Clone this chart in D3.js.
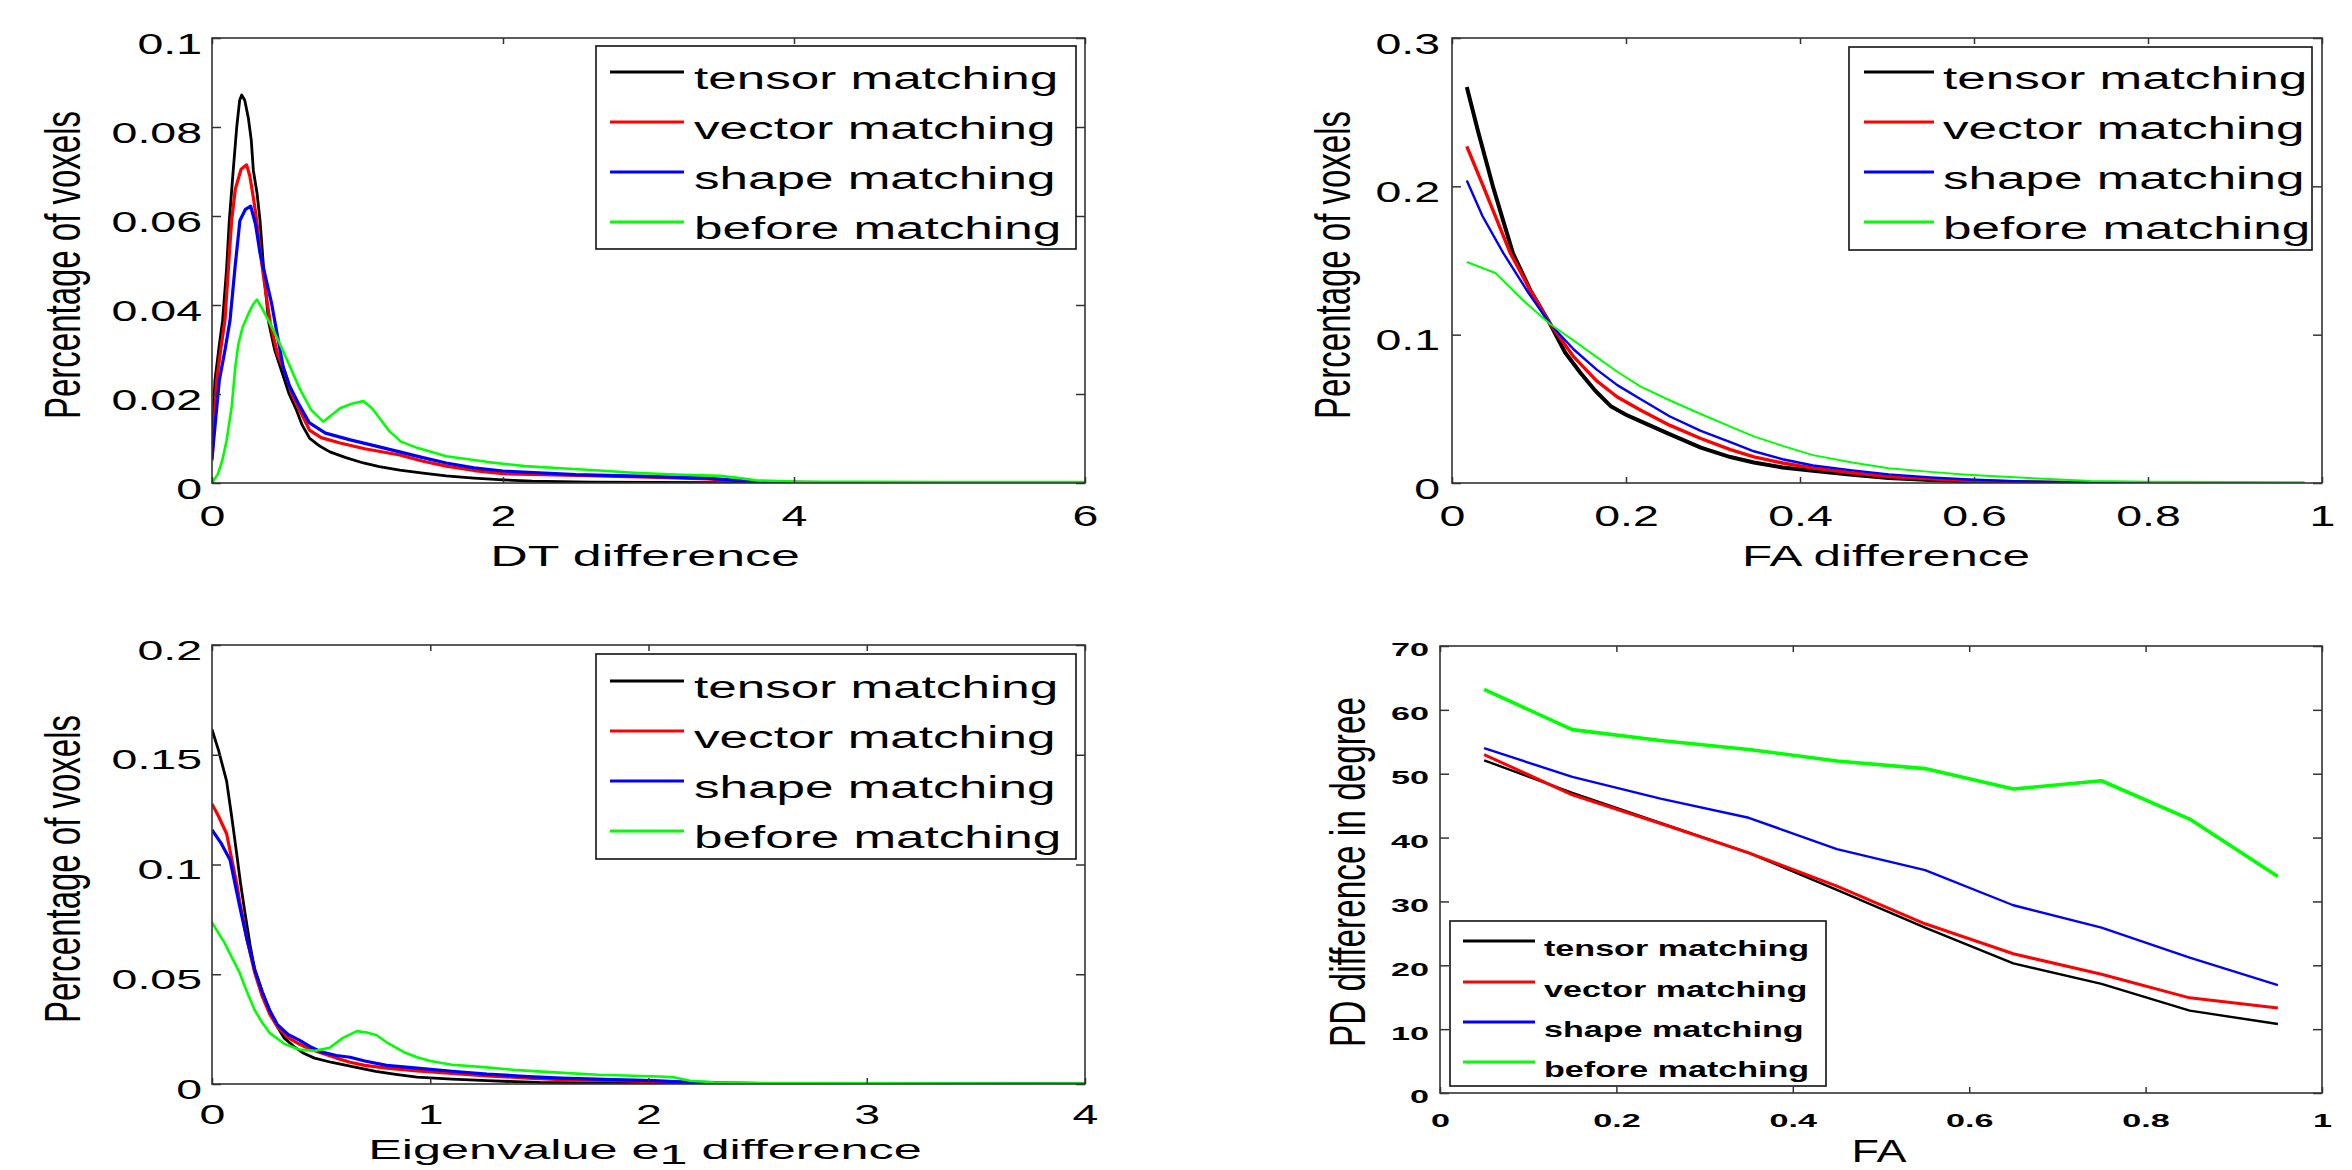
<!DOCTYPE html>
<html><head><meta charset="utf-8">
<script src="https://cdn.jsdelivr.net/npm/d3@7"></script>
<style>body{margin:0;background:#fff}</style>
</head><body><svg id="c" width="2352" height="1170"></svg>
<script>
// ---------------- DATA ----------------
const legendLabels = ["tensor matching", "vector matching", "shape matching", "before matching"];

// Panel 1: DT difference  [x, y]
const dtTensor = [[0,0.0074],[0.02,0.023],[0.05,0.031],[0.073,0.0366],[0.1,0.048],[0.119,0.059],[0.146,0.0703],[0.17,0.08],[0.19,0.086],[0.204,0.0872],[0.225,0.086],[0.25,0.082],[0.27,0.077],[0.284,0.0703],[0.31,0.065],[0.33,0.059],[0.36,0.046],[0.39,0.036],[0.43,0.03],[0.48,0.025],[0.53,0.02],[0.58,0.0164],[0.62,0.013],[0.67,0.0101],[0.74,0.0083],[0.81,0.007],[0.92,0.0057],[1.04,0.0045],[1.15,0.0037],[1.29,0.0029],[1.45,0.0022],[1.61,0.0016],[1.8,0.0011],[2.0,0.0007],[2.2,0.0004],[2.6,0.0002],[3.5,0.0001],[6,0]];
const dtVector = [[0,0.005],[0.032,0.023],[0.06,0.03],[0.089,0.0366],[0.11,0.047],[0.135,0.059],[0.16,0.066],[0.2,0.0705],[0.238,0.0715],[0.26,0.069],[0.285,0.064],[0.307,0.059],[0.335,0.051],[0.364,0.0441],[0.4,0.036],[0.45,0.029],[0.5,0.025],[0.55,0.02],[0.6,0.0165],[0.67,0.0119],[0.75,0.0102],[0.88,0.009],[1.05,0.0077],[1.29,0.0063],[1.45,0.0049],[1.61,0.0038],[1.8,0.0028],[2.0,0.0021],[2.5,0.0017],[3.0,0.0013],[3.4,0.0009],[3.6,0.0005],[3.8,0.0002],[4.2,0.0001],[5,0.0001],[6,0]];
const dtShape = [[0,0.0055],[0.05,0.023],[0.09,0.03],[0.124,0.0366],[0.16,0.049],[0.192,0.059],[0.23,0.0615],[0.266,0.0622],[0.3,0.058],[0.33,0.0517],[0.37,0.046],[0.41,0.0403],[0.45,0.033],[0.49,0.026],[0.53,0.022],[0.6,0.0175],[0.67,0.0135],[0.78,0.0112],[0.95,0.0097],[1.1,0.0085],[1.29,0.007],[1.45,0.0057],[1.61,0.0045],[1.8,0.0034],[2.0,0.0027],[2.5,0.0019],[3.0,0.0015],[3.4,0.0011],[3.6,0.0006],[3.75,0.0002],[4.2,0.0001],[5.5,0.0001],[6,0]];
const dtBefore = [[0,0],[0.04,0.002],[0.07,0.005],[0.1,0.0095],[0.135,0.0171],[0.16,0.026],[0.18,0.031],[0.21,0.035],[0.25,0.038],[0.28,0.04],[0.309,0.0412],[0.34,0.0395],[0.38,0.037],[0.42,0.0345],[0.47,0.031],[0.525,0.027],[0.6,0.0214],[0.68,0.0165],[0.765,0.0138],[0.82,0.0152],[0.88,0.0168],[0.96,0.0178],[1.04,0.0184],[1.1,0.0168],[1.16,0.0142],[1.22,0.0116],[1.3,0.0093],[1.41,0.0079],[1.61,0.006],[1.9,0.0047],[2.15,0.0038],[2.4,0.0033],[2.66,0.0028],[2.9,0.0023],[3.18,0.0019],[3.49,0.0016],[3.6,0.0012],[3.74,0.0006],[4.0,0.0003],[5,0.0002],[6,0.0002]];
const dtXTicks = [0, 2, 4, 6];
const dtXTickLabels = ["0", "2", "4", "6"];
const dtYTicks = [0, 0.02, 0.04, 0.06, 0.08, 0.1];
const dtYTickLabels = ["0", "0.02", "0.04", "0.06", "0.08", "0.1"];

// Panel 2: FA difference
const faTensor = [[0.017,0.267],[0.03,0.237],[0.047,0.2],[0.07,0.155],[0.09,0.13],[0.113,0.107],[0.13,0.088],[0.148,0.074],[0.165,0.062],[0.183,0.0515],[0.2,0.046],[0.217,0.0415],[0.25,0.033],[0.286,0.0239],[0.32,0.0175],[0.347,0.0138],[0.38,0.0105],[0.415,0.0083],[0.46,0.0055],[0.502,0.0033],[0.55,0.002],[0.588,0.0013],[0.63,0.0005],[0.68,0.0002],[0.75,0]];
const faVector = [[0.017,0.227],[0.036,0.2],[0.067,0.155],[0.09,0.13],[0.113,0.107],[0.14,0.085],[0.166,0.069],[0.19,0.058],[0.217,0.049],[0.25,0.039],[0.286,0.03],[0.32,0.0225],[0.347,0.0176],[0.38,0.0135],[0.415,0.01],[0.46,0.0068],[0.502,0.0043],[0.55,0.0028],[0.588,0.0018],[0.63,0.001],[0.68,0.0003],[0.75,0]];
const faShape = [[0.017,0.204],[0.035,0.18],[0.059,0.155],[0.088,0.128],[0.113,0.107],[0.14,0.09],[0.166,0.0766],[0.19,0.066],[0.217,0.0565],[0.25,0.045],[0.286,0.0352],[0.32,0.0275],[0.347,0.0214],[0.38,0.016],[0.415,0.0118],[0.46,0.0085],[0.502,0.0058],[0.55,0.0038],[0.588,0.0025],[0.63,0.0015],[0.674,0.0008],[0.734,0.0002],[0.8,0]];
const faBefore = [[0.017,0.149],[0.05,0.1416],[0.082,0.123],[0.113,0.107],[0.14,0.096],[0.166,0.085],[0.19,0.075],[0.217,0.065],[0.252,0.0553],[0.286,0.0465],[0.32,0.038],[0.347,0.0314],[0.38,0.025],[0.415,0.0188],[0.46,0.0138],[0.502,0.01],[0.55,0.0075],[0.588,0.0058],[0.63,0.0043],[0.674,0.003],[0.734,0.0013],[0.8,0.0008],[0.9,0.0006],[0.98,0.0005]];
const faXTicks = [0, 0.2, 0.4, 0.6, 0.8, 1];
const faXTickLabels = ["0", "0.2", "0.4", "0.6", "0.8", "1"];
const faYTicks = [0, 0.1, 0.2, 0.3];
const faYTickLabels = ["0", "0.1", "0.2", "0.3"];

// Panel 3: Eigenvalue e1 difference
const e1Tensor = [[0,0.1615],[0.03,0.152],[0.067,0.138],[0.09,0.122],[0.113,0.105],[0.13,0.092],[0.151,0.078],[0.175,0.063],[0.196,0.052],[0.23,0.042],[0.264,0.0336],[0.3,0.026],[0.33,0.021],[0.373,0.0173],[0.42,0.014],[0.47,0.0118],[0.55,0.0098],[0.633,0.0081],[0.75,0.0058],[0.85,0.0043],[0.94,0.0031],[1.1,0.0022],[1.26,0.0015],[1.5,0.0007],[1.8,0.0004],[2.0,0.0002],[2.5,0.0001],[4,0]];
const e1Vector = [[0,0.1276],[0.03,0.122],[0.067,0.114],[0.113,0.0914],[0.127,0.083],[0.16,0.066],[0.196,0.0506],[0.23,0.04],[0.264,0.0319],[0.3,0.026],[0.35,0.021],[0.4,0.0182],[0.45,0.0158],[0.505,0.014],[0.57,0.0118],[0.633,0.0099],[0.7,0.0085],[0.8,0.0072],[0.94,0.006],[1.1,0.0048],[1.26,0.0037],[1.45,0.0027],[1.6,0.002],[1.8,0.0016],[2.02,0.0012],[2.2,0.0006],[2.3,0.0003],[2.6,0.0001],[4,0]];
const e1Shape = [[0,0.1158],[0.04,0.11],[0.083,0.102],[0.128,0.0805],[0.16,0.066],[0.196,0.052],[0.23,0.042],[0.264,0.0336],[0.3,0.027],[0.35,0.0225],[0.4,0.02],[0.45,0.017],[0.505,0.0145],[0.57,0.013],[0.633,0.0122],[0.7,0.0105],[0.8,0.0085],[0.94,0.0072],[1.1,0.0058],[1.26,0.0045],[1.45,0.0034],[1.6,0.0027],[1.8,0.0021],[2.02,0.0015],[2.15,0.001],[2.29,0.0006],[2.5,0.0002],[3.6,0.0001],[4,0]];
const e1Before = [[0,0.0736],[0.058,0.0642],[0.127,0.0506],[0.16,0.042],[0.196,0.0336],[0.23,0.028],[0.264,0.0233],[0.333,0.0182],[0.4,0.0157],[0.472,0.0151],[0.539,0.0165],[0.6,0.021],[0.664,0.0241],[0.71,0.0235],[0.755,0.0222],[0.8,0.019],[0.88,0.0145],[0.94,0.0122],[1.0,0.0105],[1.1,0.0088],[1.245,0.0077],[1.4,0.0063],[1.55,0.0054],[1.77,0.0042],[2.05,0.0034],[2.12,0.003],[2.19,0.0015],[2.3,0.0008],[2.46,0.0005],[3,0.0003],[4,0.0002]];
const e1XTicks = [0, 1, 2, 3, 4];
const e1XTickLabels = ["0", "1", "2", "3", "4"];
const e1YTicks = [0, 0.05, 0.1, 0.15, 0.2];
const e1YTickLabels = ["0", "0.05", "0.1", "0.15", "0.2"];

// Panel 4: PD difference vs FA
const pdFA = [0.05, 0.15, 0.25, 0.35, 0.45, 0.55, 0.65, 0.75, 0.85, 0.95];
const pdTensor = [52.1, 47.0, 42.3, 37.6, 31.8, 25.9, 20.3, 17.1, 12.9, 10.8];
const pdVector = [53.0, 46.7, 42.2, 37.6, 32.4, 26.5, 21.8, 18.6, 14.9, 13.3];
const pdShape  = [54.0, 49.5, 46.1, 43.1, 38.2, 34.9, 29.4, 25.9, 21.2, 16.9];
const pdBefore = [63.2, 56.9, 55.2, 53.8, 52.0, 50.8, 47.6, 48.9, 42.9, 33.9];
const pdXTicks = [0, 0.2, 0.4, 0.6, 0.8, 1];
const pdXTickLabels = ["0", "0.2", "0.4", "0.6", "0.8", "1"];
const pdYTicks = [0, 10, 20, 30, 40, 50, 60, 70];
const pdYTickLabels = ["0", "10", "20", "30", "40", "50", "60", "70"];

// ---------------- STYLE / LAYOUT ----------------
const FONT = '"Liberation Sans", Arial, Helvetica, sans-serif';
const colors = ["#000000", "#ff0000", "#0000ff", "#00ff00"];
const AXIS = "#333333";

const svg = d3.select("#c");
svg.append("rect").attr("width", 2352).attr("height", 1170).attr("fill", "#fff");

function addText(g, str, x, y, o) {
  const t = g.append("text")
    .attr("font-family", FONT)
    .attr("font-size", o.size)
    .attr("font-weight", o.weight || "normal")
    .attr("text-anchor", o.anchor || "start")
    .attr("fill", "#000")
    .attr("transform", `translate(${x},${y}) scale(${o.sx || 1},1)` + (o.rotate ? " rotate(-90)" : ""));
  if (str !== null) t.text(str);
  return t;
}

function panel(cfg, idx) {
  const [x0, x1, y0, y1] = cfg.box;
  const g = svg.append("g");
  const x = d3.scaleLinear().domain(cfg.xDomain).range([x0, x1]);
  const y = d3.scaleLinear().domain(cfg.yDomain).range([y1, y0]);

  const clipId = "clip" + idx;
  g.append("clipPath").attr("id", clipId).append("rect")
    .attr("x", x0).attr("y", y0 - 2).attr("width", x1 - x0).attr("height", y1 - y0 + 2);

  const line = d3.line().x(d => x(d[0])).y(d => y(d[1]));
  const lines = g.append("g").attr("clip-path", `url(#${clipId})`);
  cfg.series.forEach((s, i) => {
    lines.append("path").datum(s).attr("d", line)
      .attr("fill", "none").attr("stroke", colors[i])
      .attr("stroke-width", cfg.widths[i]).attr("stroke-linejoin", "round");
  });

  const tf = cfg.tick;
  function styleAxis(sel, labels) {
    sel.select(".domain").remove();
    sel.selectAll(".tick line").attr("stroke", AXIS).attr("stroke-width", 1.5);
    sel.attr("font-family", FONT).attr("font-size", tf.size).attr("font-weight", tf.weight);
    if (!labels) sel.selectAll(".tick text").remove();
  }
  const gb = g.append("g").attr("transform", `translate(0,${y1})`)
    .call(d3.axisBottom(x).tickValues(cfg.xTicks).tickFormat((d, i) => cfg.xTickLabels[i])
      .tickSizeInner(-cfg.tickV).tickSizeOuter(0).tickPadding(tf.padX));
  styleAxis(gb, true);
  gb.selectAll(".tick text").attr("fill", "#000").attr("transform", `scale(${tf.sx},1)`);

  const gt = g.append("g").attr("transform", `translate(0,${y0})`)
    .call(d3.axisTop(x).tickValues(cfg.xTicks).tickSizeInner(-cfg.tickV).tickSizeOuter(0));
  styleAxis(gt, false);

  const gl = g.append("g").attr("transform", `translate(${x0},0)`)
    .call(d3.axisLeft(y).tickValues(cfg.yTicks).tickFormat((d, i) => cfg.yTickLabels[i])
      .tickSizeInner(-cfg.tickH).tickSizeOuter(0).tickPadding(tf.padY));
  styleAxis(gl, true);
  gl.selectAll(".tick text").attr("fill", "#000").attr("x", -tf.padY / tf.sx)
    .attr("dy", tf.dyY).attr("transform", `scale(${tf.sx},1)`);

  const gr = g.append("g").attr("transform", `translate(${x1},0)`)
    .call(d3.axisRight(y).tickValues(cfg.yTicks).tickSizeInner(-cfg.tickH).tickSizeOuter(0));
  styleAxis(gr, false);

  g.append("rect").attr("x", x0).attr("y", y0).attr("width", x1 - x0).attr("height", y1 - y0)
    .attr("fill", "none").attr("stroke", AXIS).attr("stroke-width", 1.6);

  // axis labels
  const xl = cfg.xLabel;
  if (xl.sub) {
    const t = addText(g, null, xl.x, xl.y, xl);
    t.append("tspan").text(xl.text[0]);
    t.append("tspan").attr("dy", xl.subDy).text(xl.text[1]);
    t.append("tspan").attr("dy", -xl.subDy).text(xl.text[2]);
  } else {
    addText(g, xl.text, xl.x, xl.y, xl);
  }
  const yl = cfg.yLabel;
  addText(g, yl.text, yl.x, yl.y, Object.assign({ rotate: true, anchor: "middle" }, yl));

  // legend
  const L = cfg.legend;
  g.append("rect").attr("x", L.box[0]).attr("y", L.box[2])
    .attr("width", L.box[1] - L.box[0]).attr("height", L.box[3] - L.box[2])
    .attr("fill", "#fff").attr("stroke", "#111").attr("stroke-width", 1.6);
  legendLabels.forEach((lab, i) => {
    const ry = L.rows[i];
    g.append("line").attr("x1", L.line[0]).attr("x2", L.line[1]).attr("y1", ry).attr("y2", ry)
      .attr("stroke", colors[i]).attr("stroke-width", L.lw);
    addText(g, lab, L.textX, ry + L.base, L);
  });
}

const big = { size: 30, weight: "normal", sx: 1.55, padX: 22, padY: 10, dyY: "0.5em" };

panel({
  box: [212, 1085, 38, 483], xDomain: [0, 6], yDomain: [0, 0.1],
  xTicks: dtXTicks, xTickLabels: dtXTickLabels, yTicks: dtYTicks, yTickLabels: dtYTickLabels,
  series: [dtTensor, dtVector, dtShape, dtBefore], widths: [2.8, 3.2, 3.2, 2.6],
  tick: big, tickV: 6, tickH: 9,
  xLabel: { text: "DT difference", x: 645, y: 566, size: 30, sx: 1.73, anchor: "middle" },
  yLabel: { text: "Percentage of voxels", x: 80, y: 265, size: 33, sx: 1.5 },
  legend: { box: [596, 1076, 46, 249], line: [610, 684], textX: 694, rows: [72, 122, 172, 222], base: 17, size: 32, sx: 1.6, lw: 3 }
}, 1);

panel({
  box: [1452, 2322, 38, 483], xDomain: [0, 1], yDomain: [0, 0.3],
  xTicks: faXTicks, xTickLabels: faXTickLabels, yTicks: faYTicks, yTickLabels: faYTickLabels,
  series: [faTensor, faVector, faShape, faBefore], widths: [4, 3.4, 2.4, 2],
  tick: Object.assign({}, big, { padY: 12 }), tickV: 6, tickH: 9,
  xLabel: { text: "FA difference", x: 1886, y: 566, size: 30, sx: 1.65, anchor: "middle" },
  yLabel: { text: "Percentage of voxels", x: 1350, y: 265, size: 33, sx: 1.5 },
  legend: { box: [1849, 2312, 47, 250], line: [1864, 1934], textX: 1943, rows: [72, 122, 172, 222], base: 17, size: 32, sx: 1.6, lw: 3 }
}, 2);

panel({
  box: [212, 1085, 645, 1084], xDomain: [0, 4], yDomain: [0, 0.2],
  xTicks: e1XTicks, xTickLabels: e1XTickLabels, yTicks: e1YTicks, yTickLabels: e1YTickLabels,
  series: [e1Tensor, e1Vector, e1Shape, e1Before], widths: [2.8, 3.2, 3.2, 2.6],
  tick: { size: 28, weight: "normal", sx: 1.66, padX: 20, padY: 10, dyY: "0.5em" }, tickV: 6, tickH: 9,
  xLabel: { text: ["Eigenvalue e", "1", " difference"], sub: true, subDy: 5, x: 645, y: 1159, size: 28, sx: 1.8, anchor: "middle" },
  yLabel: { text: "Percentage of voxels", x: 80, y: 869, size: 33, sx: 1.5 },
  legend: { box: [596, 1076, 654, 859], line: [610, 684], textX: 694, rows: [681, 731, 781, 831], base: 17, size: 32, sx: 1.6, lw: 3 }
}, 3);

panel({
  box: [1440, 2322, 646, 1093], xDomain: [0, 1], yDomain: [0, 70],
  xTicks: pdXTicks, xTickLabels: pdXTickLabels, yTicks: pdYTicks, yTickLabels: pdYTickLabels,
  series: [d3.zip(pdFA, pdTensor), d3.zip(pdFA, pdVector), d3.zip(pdFA, pdShape), d3.zip(pdFA, pdBefore)],
  widths: [2.4, 3, 2.4, 3.6],
  tick: { size: 18, weight: "bold", sx: 1.9, padX: 21, padY: 11, dyY: "0.55em" }, tickV: 6, tickH: 9,
  xLabel: { text: "FA", x: 1879, y: 1162, size: 31, sx: 1.45, anchor: "middle" },
  yLabel: { text: "PD difference in degree", x: 1365, y: 872, size: 33.4, sx: 1.5 },
  legend: { box: [1450, 1826, 921, 1086], line: [1463, 1535], textX: 1544, rows: [941, 982, 1022, 1062], base: 15, size: 22, weight: "bold", sx: 1.55, lw: 3 }
}, 4);
</script>
</body></html>
